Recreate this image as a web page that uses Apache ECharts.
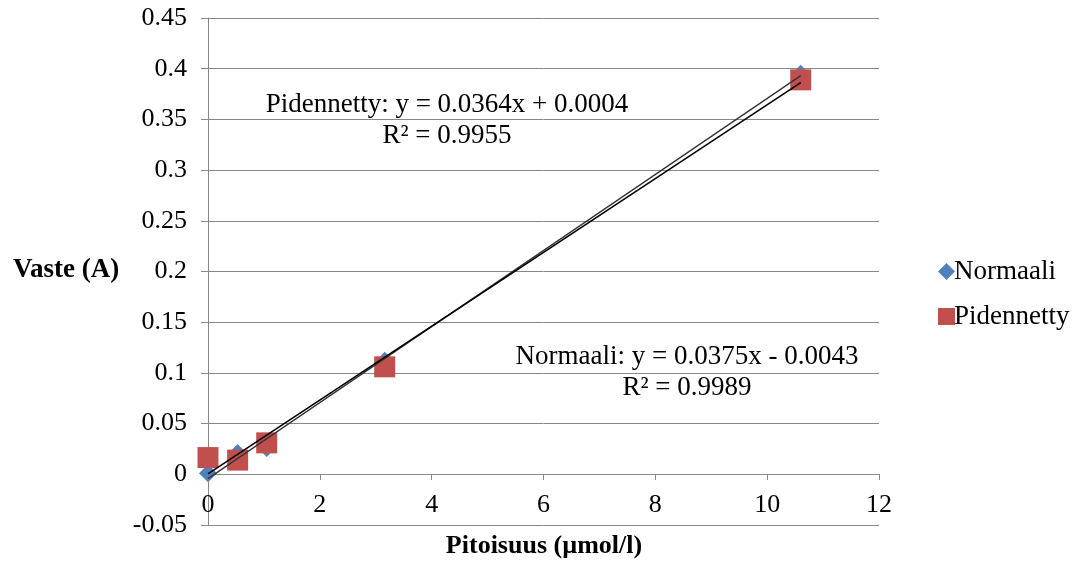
<!DOCTYPE html>
<html><head><meta charset="utf-8">
<script src="https://cdn.jsdelivr.net/npm/echarts@6/dist/echarts.min.js"></script>
<style>html,body{margin:0;padding:0;background:#fff}#c{width:1078px;height:562px}</style>
</head><body><div id="c"></div>
<script>
const xNormaali = [0, 0.53, 1.05, 3.16, 10.6];
const yNormaali = [0.001, 0.021, 0.026, 0.112, 0.395];
const xPidennetty = [0, 0.53, 1.05, 3.16, 10.6];
const yPidennetty = [0.0165, 0.014, 0.031, 0.106, 0.389];
const trendNormaali = [[0, -0.0043], [10.6, 0.3932]];
const trendPidennetty = [[0, 0.0004], [10.6, 0.3862]];
const seriesNames = ['Normaali', 'Pidennetty'];
const eqNormaali = ['Normaali: y = 0.0375x - 0.0043', 'R² = 0.9989'];
const eqPidennetty = ['Pidennetty: y = 0.0364x + 0.0004', 'R² = 0.9955'];
const xTitle = 'Pitoisuus (µmol/l)';
const yTitle = 'Vaste (A)';

const font = '"Liberation Serif", "Times New Roman", serif';
const chart = echarts.init(document.getElementById('c'));
const pts = (xs, ys) => xs.map((x, i) => [x, ys[i]]);
chart.setOption({
  animation: false,
  grid: {left: 208, right: 199, top: 18, bottom: 37},
  xAxis: {
    type: 'value', min: 0, max: 12, interval: 2, position: 'bottom', offset: -51,
    axisLine: {onZero: false, lineStyle: {color: '#888', width: 1}},
    axisTick: {show: true, length: 6, lineStyle: {color: '#888'}},
    axisLabel: {fontFamily: font, fontSize: 26, color: '#000', margin: 18},
    splitLine: {show: false}
  },
  yAxis: {
    type: 'value', min: -0.05, max: 0.45, interval: 0.05,
    axisLine: {show: true, onZero: false, lineStyle: {color: '#888', width: 1}},
    axisTick: {show: true, length: 7, lineStyle: {color: '#888'}},
    axisLabel: {fontFamily: font, fontSize: 26, color: '#000', margin: 21,
      formatter: v => String(Math.round(v * 100) / 100)},
    splitLine: {show: true, lineStyle: {color: '#888', width: 1}}
  },
  legend: {
    orient: 'vertical', left: 933, top: 253, itemGap: 18,
    itemWidth: 17, itemHeight: 17,
    textStyle: {fontFamily: font, fontSize: 27, color: '#000', padding: [0, 0, 0, -6]},
    data: [{name: seriesNames[0], icon: 'diamond'}, {name: seriesNames[1], icon: 'rect'}]
  },
  series: [
    {name: seriesNames[0], type: 'scatter', symbol: 'diamond', symbolSize: 18,
     itemStyle: {color: '#4F81BD', opacity: 1}, data: pts(xNormaali, yNormaali), z: 3},
    {name: seriesNames[1], type: 'scatter', symbol: 'rect', symbolSize: 21,
     itemStyle: {color: '#C0504D', opacity: 1}, data: pts(xPidennetty, yPidennetty), z: 4},
    {name: 'trendN', type: 'line', data: trendNormaali, symbol: 'none', silent: true,
     lineStyle: {color: '#333', width: 1.3}, z: 5},
    {name: 'trendP', type: 'line', data: trendPidennetty, symbol: 'none', silent: true,
     lineStyle: {color: '#000', width: 1.6}, z: 5}
  ],
  graphic: [
    {type: 'text', left: 13, top: 257, style: {text: yTitle, font: 'bold 27px ' + font, fill: '#000'}},
    {type: 'text', x: 544, y: 533, style: {text: xTitle, font: 'bold 26px ' + font, fill: '#000', textAlign: 'center'}},
    {type: 'text', x: 447, y: 89, style: {text: eqPidennetty.join('\n'), font: '27px ' + font, fill: '#000', textAlign: 'center', lineHeight: 31}},
    {type: 'text', x: 687, y: 341, style: {text: eqNormaali.join('\n'), font: '27px ' + font, fill: '#000', textAlign: 'center', lineHeight: 31}}
  ]
});
</script></body></html>
